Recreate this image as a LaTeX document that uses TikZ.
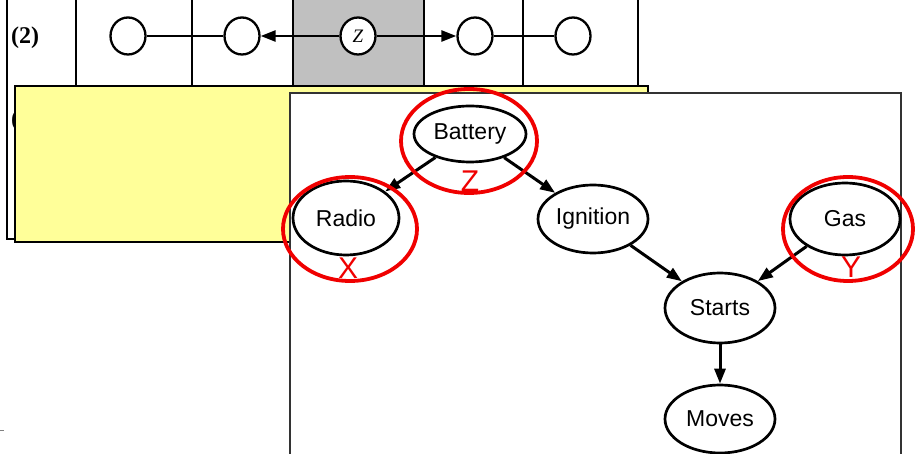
\documentclass[tikz,border=0pt]{standalone}
\usepackage{fontspec}
\setmainfont{Liberation Sans}
\newfontfamily\timesfont{Liberation Serif}
\usepackage{tikz}
\usetikzlibrary{shapes.geometric, arrows.meta, positioning}
\definecolor{cellgray}{RGB}{192, 192, 192}
\definecolor{noteyellow}{RGB}{255, 255, 153}
\definecolor{markred}{RGB}{240, 0, 0}
\tikzset{
  >=Triangle,
  chainnode/.style={draw, ellipse, line width=2.3pt, fill=white, minimum width=35pt, minimum height=37pt, inner sep=0pt, font=\timesfont\itshape\fontsize{19}{21}\selectfont},
  varnode/.style={draw, ellipse, line width=2.7pt, fill=white, inner sep=0pt, font=\fontsize{23}{27}\selectfont},
  chainarrow/.style={-{Triangle[length=15pt, width=11pt]}, line width=2.6pt},
  causearrow/.style={-{Triangle[length=15pt, width=11pt]}, line width=3pt},
  ring/.style={draw=markred, ellipse, line width=3.8pt, inner sep=0pt},
  ringlabel/.style={text=markred, font=\fontsize{30}{32}\selectfont, inner sep=0pt},
  rowlabel/.style={font=\timesfont\bfseries\fontsize{24}{26}\selectfont}
}

\begin{document}
\begin{tikzpicture}[x=1pt, y=-1pt]
    \useasboundingbox (0,0) rectangle (915,454);
    \clip (0,0) rectangle (915,454);

    % table in the back
    \fill[cellgray] (293,-5) rectangle (424,86);
    \draw[line width=2.2pt] (7,-5) -- (7,239) -- (16,239);
    \foreach \cx in {76, 192, 293, 424, 523, 638}
        \draw[line width=2.2pt] (\cx,-5) -- (\cx,239);
    \node[rowlabel] (row2) at (25,38) {(2)};
    \node[rowlabel] (row3) at (25,121) {(3)};

    \node (c1) [chainnode] at (128,36) {};
    \node (c2) [chainnode] at (242,36) {};
    \node (cz) [chainnode] at (358,36) {Z};
    \node (c4) [chainnode] at (475,36) {};
    \node (c5) [chainnode] at (573,36) {};

    \draw[line width=2.6pt] (c1) -- (c2);
    \draw[chainarrow] (cz) -- (c2);
    \draw[chainarrow] (cz) -- (c4);
    \draw[line width=2.6pt] (c4) -- (c5);

    % note and front panel
    \filldraw[fill=noteyellow, draw=black, line width=1.2pt] (15,86) rectangle (648,242);
    \filldraw[fill=white, draw=black!80, line width=1.5pt] (290,93) rectangle (901,470);
    \draw[gray, line width=1pt] (0,430) -- (4,430);

    % car network
    \node (battery)  [varnode, minimum width=112pt, minimum height=56pt] at (470,134) {Battery};
    \node (radio)    [varnode, minimum width=106pt, minimum height=74pt] at (346,218) {Radio};
    \node (ignition) [varnode, minimum width=110pt, minimum height=68pt] at (593,219) {Ignition};
    \node (gas)      [varnode, minimum width=110pt, minimum height=72pt] at (845,219) {Gas};
    \node (starts)   [varnode, minimum width=110pt, minimum height=70pt] at (720,308) {Starts};
    \node (moves)    [varnode, minimum width=110pt, minimum height=68pt] at (720,419) {Moves};

    \draw[causearrow] (battery) -- (radio);
    \draw[causearrow] (battery) -- (ignition);
    \draw[causearrow] (ignition) -- (starts);
    \draw[causearrow] (gas) -- (starts);
    \draw[causearrow] (starts) -- (moves);

    % marked variables
    \node (ringz) [ring, minimum width=136pt, minimum height=104pt] at (469,141) {};
    \node (ringx) [ring, minimum width=134pt, minimum height=104pt] at (350,229) {};
    \node (ringy) [ring, minimum width=130pt, minimum height=104pt] at (848,229) {};
    \node (markz) [ringlabel] at (470,181) {Z};
    \node (markx) [ringlabel] at (348,268) {X};
    \node (marky) [ringlabel] at (851,267) {Y};
\end{tikzpicture}
\end{document}
